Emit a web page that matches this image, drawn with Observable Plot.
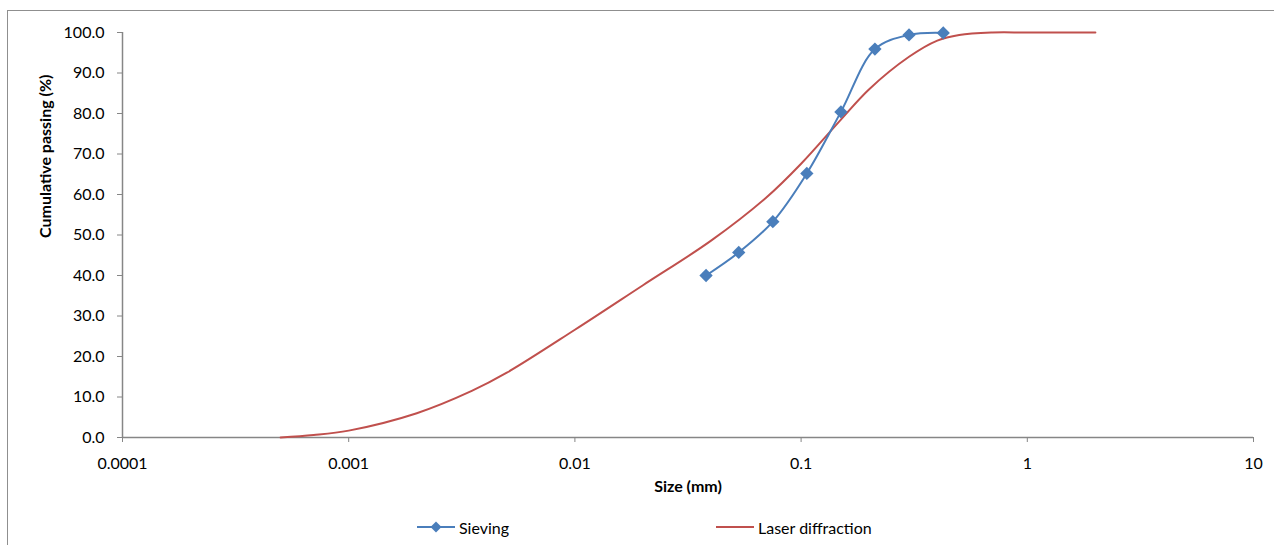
<!DOCTYPE html>
<html><head><meta charset="utf-8">
<script src="https://cdn.jsdelivr.net/npm/d3@7"></script>
<script src="https://cdn.jsdelivr.net/npm/@observablehq/plot@0.6"></script>
<style>
body{margin:0;background:#fff;font-family:Lato,sans-serif;}
#wrap{position:relative;width:1274px;height:545px;overflow:hidden;background:#fff;}
#frame{position:absolute;left:7px;top:10px;width:1300px;height:600px;border:1.5px solid #8f8f8f;box-sizing:border-box;}
#chart{position:absolute;left:0;top:0;}
#legend{position:absolute;left:0;top:500px;width:1274px;height:45px;}
.item{position:absolute;top:17px;height:20px;display:flex;align-items:center;font-size:16px;color:#000;font-family:Lato,sans-serif;}
.item svg{margin-right:4px;}
</style></head><body>
<div id="wrap"><div id="frame"></div><div id="chart"></div><div id="legend"></div></div>
<script>
// Data
const sieveSize = [0.038, 0.053, 0.075, 0.106, 0.15, 0.212, 0.3, 0.425];
const sievePassing = [40.0, 45.7, 53.3, 65.2, 80.4, 95.9, 99.4, 99.9];
const laserSize = [0.0005, 0.0007, 0.001, 0.002, 0.0035, 0.005, 0.01, 0.02, 0.04, 0.07, 0.1, 0.15, 0.2, 0.3, 0.4, 0.5, 0.7, 1, 2];
const laserPassing = [0, 0.6, 1.7, 6.0, 11.5, 16.0, 26.6, 37.6, 48.6, 59.2, 67.6, 78.5, 86.0, 94.0, 98.0, 99.4, 100, 100, 100];
const xTicks = [0.0001, 0.001, 0.01, 0.1, 1, 10];
const xTickLabels = ["0.0001", "0.001", "0.01", "0.1", "1", "10"];
const yTicks = [0, 10, 20, 30, 40, 50, 60, 70, 80, 90, 100];
const seriesNames = ["Sieving", "Laser diffraction"];
const seriesColors = ["#4a7ebb", "#c0504d"];
const xLabel = "Size (mm)";
const yLabel = "Cumulative passing (%)";

const sieve = sieveSize.map((s, i) => ({size: s, passing: sievePassing[i]}));
const laser = laserSize.map((s, i) => ({size: s, passing: laserPassing[i]}));
const axisColor = "#868686";

const chart = Plot.plot({
  width: 1274,
  height: 500,
  marginLeft: 122,
  marginRight: 21,
  marginTop: 32,
  marginBottom: 63,
  style: {fontFamily: "Lato, sans-serif", fontSize: "16px", background: "transparent"},
  x: {type: "log", domain: [0.0001, 10]},
  y: {domain: [0, 100]},
  marks: [
    Plot.ruleY([0], {stroke: axisColor, strokeWidth: 1.5}),
    Plot.ruleX([0.0001], {stroke: axisColor, strokeWidth: 1.5}),
    Plot.axisX({ticks: xTicks, tickFormat: d => xTickLabels[xTicks.indexOf(d)], tickSize: 5, tickPadding: 15, stroke: axisColor, fill: "#000", fontSize: 16, label: null}),
    Plot.axisY({ticks: yTicks, tickFormat: d => d.toFixed(1), tickSize: 5, tickPadding: 13, stroke: axisColor, fill: "#000", fontSize: 16, label: null}),
    Plot.line(laser, {x: "size", y: "passing", stroke: seriesColors[1], strokeWidth: 2, curve: "catmull-rom"}),
    Plot.line(sieve, {x: "size", y: "passing", stroke: seriesColors[0], strokeWidth: 2, curve: "catmull-rom"}),
    Plot.dot(sieve, {x: "size", y: "passing", symbol: "diamond2", fill: seriesColors[0], stroke: null, r: 6}),
    Plot.text([xLabel], {frameAnchor: "bottom", dy: 54, fontWeight: "bold", fontSize: 16, fill: "#000"}),
    Plot.text([yLabel], {frameAnchor: "left", dx: -77, dy: 3, rotate: -90, fontWeight: "bold", fontSize: 16, fill: "#000"})
  ]
});
document.getElementById("chart").appendChild(chart);

// Legend
const legend = document.getElementById("legend");
const lefts = [417, 716];
seriesNames.forEach((name, i) => {
  const item = document.createElement("div");
  item.className = "item";
  item.style.left = lefts[i] + "px";
  const marker = i === 0 ? `<path d="M19,1.5 L24.5,7 L19,12.5 L13.5,7 Z" fill="${seriesColors[i]}"/>` : "";
  item.innerHTML = `<svg width="38" height="14"><line x1="0" x2="38" y1="7" y2="7" stroke="${seriesColors[i]}" stroke-width="2"/>${marker}</svg><span>${name}</span>`;
  legend.appendChild(item);
});
</script>
</body></html>
